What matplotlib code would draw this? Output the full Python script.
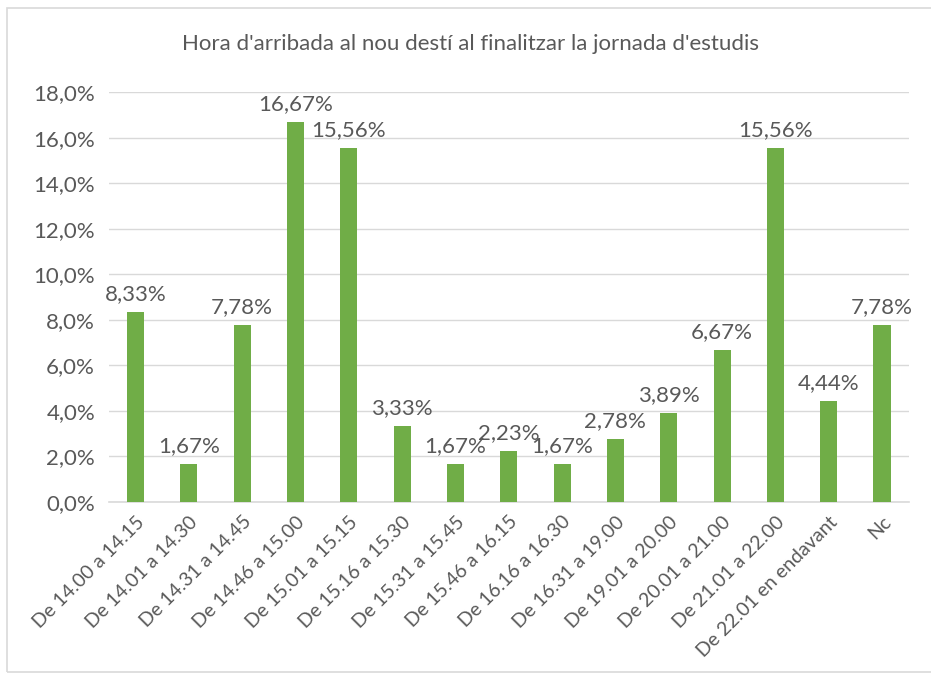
import matplotlib.pyplot as plt
from matplotlib.patches import Rectangle

# Data
categories = ["De 14.00 a 14.15", "De 14.01 a 14.30", "De 14.31 a 14.45", "De 14.46 a 15.00",
              "De 15.01 a 15.15", "De 15.16 a 15.30", "De 15.31 a 15.45", "De 15.46 a 16.15",
              "De 16.16 a 16.30", "De 16.31 a 19.00", "De 19.01 a 20.00", "De 20.01 a 21.00",
              "De 21.01 a 22.00", "De 22.01 en endavant", "Nc"]
values = [8.33, 1.67, 7.78, 16.67, 15.56, 3.33, 1.67, 2.23, 1.67, 2.78, 3.89, 6.67, 15.56, 4.44, 7.78]
yticks = [0, 2, 4, 6, 8, 10, 12, 14, 16, 18]

plt.rcParams['font.family'] = ['Lato', 'DejaVu Sans']
text_color = "#595959"

fig = plt.figure(figsize=(9.31, 6.82), dpi=100)
ax = fig.add_axes([0.117, 0.264, 0.859, 0.601])

# Chart border
fig.patches.append(Rectangle((7 / 931, 10 / 682), 0.995, 1 - 18 / 682, transform=fig.transFigure,
                             fill=False, edgecolor="#D9D9D9", linewidth=1.2))

x = range(len(categories))
bars = ax.bar(x, values, width=0.32, color="#70AD47", zorder=3)

for xi, v in zip(x, values):
    ax.text(xi, v + 0.35, f"{v:.2f}%".replace(".", ","), ha="center", va="bottom",
            fontsize=16, color=text_color)

ax.set_xlim(-0.5, len(categories) - 0.5)
ax.set_ylim(0, 18)
ax.set_yticks(yticks)
ax.set_yticklabels([f"{t:.1f}%".replace(".", ",") for t in yticks], fontsize=16, color=text_color)
ax.set_xticks(list(x))
ax.set_xticklabels(categories, rotation=45, ha="right", va="top", rotation_mode="anchor",
                   fontsize=14, color=text_color)

ax.grid(axis="y", color="#D9D9D9", linewidth=1, zorder=0)
for s in ["top", "right", "left"]:
    ax.spines[s].set_visible(False)
ax.spines["bottom"].set_color("#D9D9D9")
ax.spines["bottom"].set_linewidth(1.2)
ax.tick_params(axis="y", length=0, pad=10)
ax.tick_params(axis="x", length=0, pad=8)

fig.text(0.505, 0.935, "Hora d'arribada al nou destí al finalitzar la jornada d'estudis",
         ha="center", va="center", fontsize=16, color=text_color)

plt.savefig("out.png", dpi=100)
